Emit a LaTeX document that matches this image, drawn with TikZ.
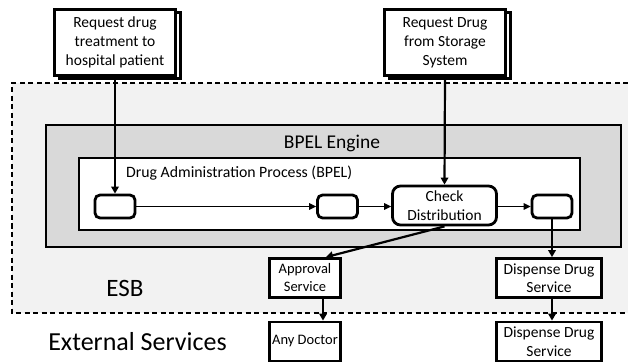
\documentclass[tikz,border=0pt]{standalone}
\usepackage{fontspec}
\setmainfont{Carlito}
\usetikzlibrary{arrows.meta}
\definecolor{esbgray}{HTML}{F2F2F2}
\definecolor{enggray}{HTML}{D9D9D9}
\tikzset{
  thickline/.style={line width=2.8pt},
  reqbox/.style={draw, thickline, fill=white, minimum width=121pt, minimum height=66pt, inner sep=0pt, align=center, font=\fontsize{15.5}{19}\selectfont},
  pbox/.style={draw, thickline, fill=white, rounded corners=5pt, minimum width=40pt, minimum height=23pt, inner sep=0pt},
  chkbox/.style={draw, thickline, fill=white, rounded corners=8pt, minimum width=104pt, minimum height=39pt, inner sep=0pt, align=center, font=\fontsize{15.5}{19}\selectfont},
  svcbox/.style={draw, thickline, fill=white, minimum width=105pt, minimum height=39pt, inner sep=0pt, align=center, font=\fontsize{15.5}{18.5}\selectfont},
  narrowbox/.style={svcbox, minimum width=71pt, font=\fontsize{14.5}{18}\selectfont},
  bigarrow/.style={line width=2.2pt, -{Triangle[length=7pt,width=7.5pt]}},
  smallarrow/.style={line width=1.4pt, -{Triangle[length=7pt,width=6.5pt]}},
}
\begin{document}
\begin{tikzpicture}[x=1pt,y=-1pt]
\useasboundingbox (0,0) rectangle (628,363);
% ESB region
\fill[esbgray] (12,83) rectangle (628,313);
\draw[line width=1.3pt, dash pattern=on 5pt off 3.5pt] (628,83) -- (12,83) -- (12,313) -- (628,313);
% BPEL engine
\draw[thickline, fill=enggray] (46,125) rectangle (621,247);
\node[font=\fontsize{19.5}{23}\selectfont] (engine) at (332,143) {BPEL Engine};
\draw[thickline, fill=white] (79,158) rectangle (580,230);
\node[anchor=west, font=\fontsize{15.8}{19}\selectfont, inner sep=0pt] (proc) at (126,173) {Drug Administration Process (BPEL)};
% request boxes
\node[reqbox] (req1s) at (120,45.5) {};
\node[reqbox] (req1) at (115,42.5) {Request drug\\treatment to\\hospital patient};
\node[reqbox] (req2s) at (450,45.5) {};
\node[reqbox] (req2) at (445,42.5) {Request Drug\\from Storage\\System};
% process boxes
\node[pbox] (p1) at (115,206.5) {};
\node[pbox] (p2) at (337.5,206.5) {};
\node[chkbox] (chk) at (444.5,205.5) {Check\\Distribution};
\node[pbox] (p4) at (552,206.5) {};
% services
\node[narrowbox] (appr) at (305,278) {Approval\\Service};
\node[svcbox] (disp1) at (549,278) {Dispense Drug\\Service};
\node[narrowbox] (doc) at (305,341.5) {Any Doctor};
\node[svcbox] (disp2) at (549,341.5) {Dispense Drug\\Service};
% labels
\node[font=\fontsize{25}{30}\selectfont] (esb) at (125,288) {ESB};
\node[font=\fontsize{26}{30}\selectfont] (ext) at (137.5,342) {External Services};
% connectors
\draw[bigarrow] (req1.south) -- (p1.north);
\draw[bigarrow] (req2.south) -- (chk.north);
\draw[smallarrow] (p1.east) -- (p2.west);
\draw[smallarrow] (p2.east) -- (chk.west |- p2.east);
\draw[smallarrow] (chk.east |- p4.west) -- (p4.west);
\draw[bigarrow] (chk.south) -- ([xshift=21pt]appr.north);
\draw[bigarrow] (p4.south) -- (p4.south |- disp1.north);
\draw[bigarrow] ([xshift=18pt]appr.south) -- ([xshift=18pt]doc.north);
\draw[bigarrow] ([xshift=3pt]disp1.south) -- ([xshift=3pt]disp2.north);
\end{tikzpicture}
\end{document}
